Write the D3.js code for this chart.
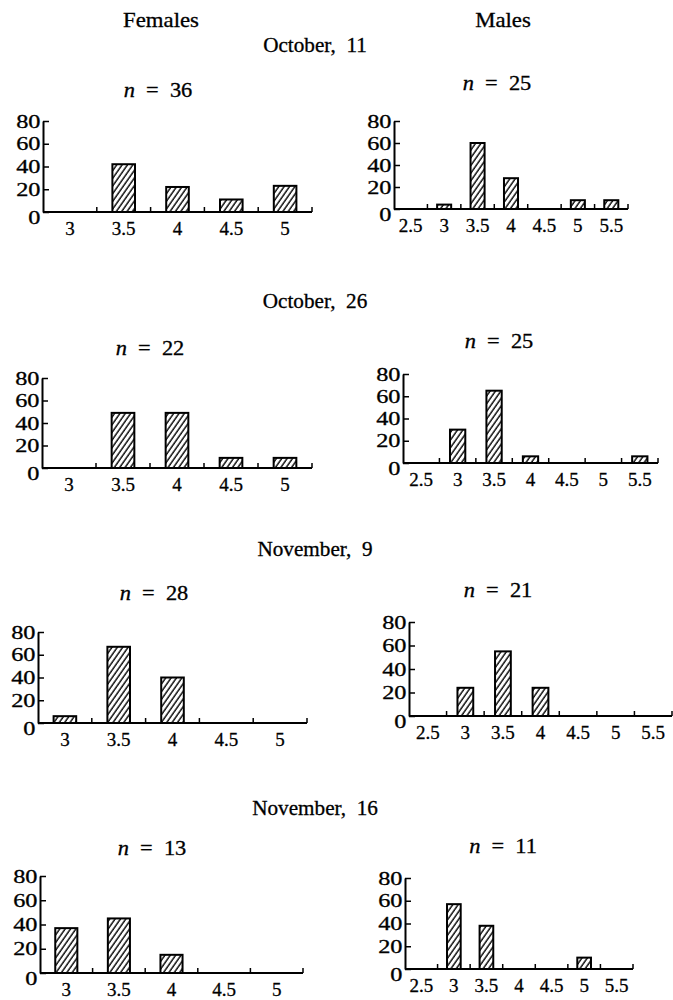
<!doctype html>
<html>
<head>
<script src="https://cdnjs.cloudflare.com/ajax/libs/d3/7.8.5/d3.min.js"></script>
<style>
    body { margin: 0; background: #fff; }
    svg { display: block; }
    text { font-family: "Liberation Serif", "Times New Roman", serif; fill: #000; stroke: #000; stroke-width: 0.3px; }
</style>
<title>Females / Males</title>
</head>
<body>
<svg width="673" height="1000"></svg>
<script>
// categories on the x axis
var femaleGrades = ["3", "3.5", "4", "4.5", "5"];
var maleGrades = ["2.5", "3", "3.5", "4", "4.5", "5", "5.5"];
var dates = ["October,  11", "October,  26", "November,  9", "November,  16"];
var femaleN = [36, 22, 28, 13];
var maleN = [25, 25, 21, 11];
var yTicks = [0, 20, 40, 60, 80];

// percentages per date
var femaleValues = [
    [0, 42, 22, 11, 23],
    [0, 49, 49, 9, 9],
    [6, 67, 40, 0, 0],
    [37, 45, 15, 0, 0]
];
var maleValues = [
    [0, 4, 60, 28, 0, 8, 8],
    [0, 30, 65, 6, 0, 0, 6],
    [0, 24, 55, 24, 0, 0, 0],
    [0, 57, 38, 0, 0, 10, 0]
];

// panel frames: left axis x, right end x, y of 80, y of baseline
var femaleBoxes = [
    { x0: 43, x1: 312, top: 121, base: 212 },
    { x0: 42, x1: 312, top: 378, base: 468 },
    { x0: 38, x1: 307, top: 632, base: 723 },
    { x0: 40, x1: 303, top: 876, base: 973 }
];
var maleBoxes = [
    { x0: 394, x1: 628, top: 121, base: 209 },
    { x0: 403, x1: 658, top: 374, base: 463 },
    { x0: 409, x1: 672, top: 622, base: 716 },
    { x0: 405, x1: 633, top: 878, base: 969 }
];
var dateY = [52, 308, 556, 815];
var femaleNPos = [[158, 97], [150, 355], [154, 600], [152, 855]];
var maleNPos = [[497, 90], [499, 348], [498, 597], [503, 853]];

var svg = d3.select("svg");

var pattern = svg.append("defs").append("pattern")
    .attr("id", "hatch")
    .attr("patternUnits", "userSpaceOnUse")
    .attr("width", 4.4)
    .attr("height", 10)
    .attr("patternTransform", "rotate(35)");
pattern.append("line")
    .attr("x1", 1).attr("y1", 0).attr("x2", 1).attr("y2", 10)
    .attr("stroke", "#000").attr("stroke-width", 1.4);

function stretched(sel, x, y, k) {
    return sel.attr("transform", "translate(" + x + "," + y + ") scale(" + k + ",1)");
}

// column headers
stretched(svg.append("text"), 161, 27, 1.14).attr("text-anchor", "middle").style("font-size", "20px").text("Females");
stretched(svg.append("text"), 503, 27, 1.14).attr("text-anchor", "middle").style("font-size", "20px").text("Males");

function nLabel(pos, n) {
    var t = stretched(svg.append("text"), pos[0], pos[1], 1.12)
        .attr("text-anchor", "middle")
        .style("font-size", "20px")
        .style("white-space", "pre");
    t.append("tspan").style("font-style", "italic").text("n");
    t.append("tspan").text("  =  " + n);
}

function panel(box, grades, values) {
    var x = d3.scaleBand().domain(grades).range([box.x0, box.x1]);
    var y = d3.scaleLinear().domain([0, 80]).range([box.base, box.top]);
    var g = svg.append("g");

    // bars
    var bw = x.bandwidth() * 0.42;
    g.selectAll("rect")
        .data(grades.map(function (c, i) { return { c: c, v: values[i] }; })
            .filter(function (d) { return d.v > 0; }))
        .enter().append("rect")
        .attr("x", function (d) { return x(d.c) + (x.bandwidth() - bw) / 2; })
        .attr("y", function (d) { return y(d.v); })
        .attr("width", bw)
        .attr("height", function (d) { return y(0) - y(d.v); })
        .attr("fill", "url(#hatch)")
        .attr("stroke", "#000")
        .attr("stroke-width", 2);

    // y axis, ticks pointing inwards
    var ya = g.append("g")
        .attr("transform", "translate(" + box.x0 + ",0)")
        .call(d3.axisLeft(y).tickValues(yTicks).tickSize(-6).tickSizeOuter(0).tickPadding(2));
    ya.select(".domain").attr("stroke-width", 2);
    ya.selectAll(".tick line").attr("stroke-width", 1.5);
    ya.selectAll(".tick text")
        .attr("font-family", null)
        .style("font-size", "19px")
        .attr("transform", "scale(1.28,1)")
        .attr("y", function (d) { return d === 0 ? 5 : 0; });

    // x axis labels at band centres
    var xa = g.append("g")
        .attr("transform", "translate(0," + box.base + ")")
        .call(d3.axisBottom(x).tickSize(0).tickPadding(10));
    xa.select(".domain").remove();
    xa.selectAll(".tick text").attr("font-family", null).style("font-size", "19px");

    // x axis line and ticks at band edges
    g.append("line")
        .attr("x1", box.x0).attr("x2", box.x1)
        .attr("y1", box.base).attr("y2", box.base)
        .attr("stroke", "#000").attr("stroke-width", 2);
    var edges = grades.slice(1).map(function (c) { return x(c); }).concat([x.range()[1]]);
    g.selectAll(".edge")
        .data(edges)
        .enter().append("line")
        .attr("class", "edge")
        .attr("x1", function (d) { return d; }).attr("x2", function (d) { return d; })
        .attr("y1", box.base).attr("y2", box.base - 5)
        .attr("stroke", "#000").attr("stroke-width", 1.5);
}

dates.forEach(function (d, i) {
    stretched(svg.append("text"), 315, dateY[i], 1.06)
        .attr("text-anchor", "middle")
        .style("font-size", "20px")
        .style("white-space", "pre")
        .text(d);
    nLabel(femaleNPos[i], femaleN[i]);
    nLabel(maleNPos[i], maleN[i]);
    panel(femaleBoxes[i], femaleGrades, femaleValues[i]);
    panel(maleBoxes[i], maleGrades, maleValues[i]);
});
</script>
</body>
</html>
